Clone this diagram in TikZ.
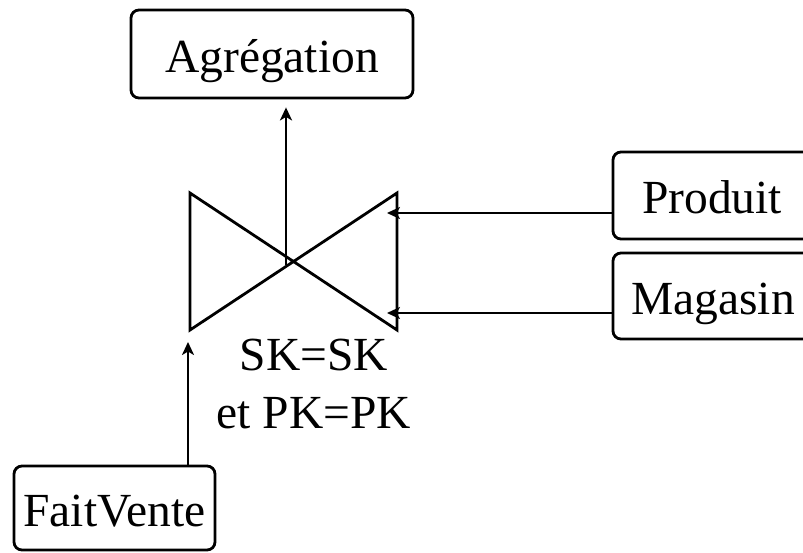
\documentclass[tikz,border=0pt]{standalone}
\usepackage{fontspec}
\setmainfont{Liberation Serif}
\usetikzlibrary{arrows.meta,calc}
\begin{document}
\begin{tikzpicture}[x=1pt,y=-1pt,
  line width=2.8pt,
  every node/.style={font=\fontsize{47.5}{57}\selectfont},
  table/.style={draw, rounded corners=8pt, inner sep=0pt,
    text height=36pt, text depth=0pt},
  flow/.style={-{Stealth[length=13pt,width=12pt,inset=3.5pt]}}]
  \clip (0,0) rectangle (803,552);
  \useasboundingbox (0,0) rectangle (803,552);

  % tables
  \node[table, minimum width=282pt, minimum height=88pt] (agg) at (272,54) {Agrégation};
  \node[table, minimum width=198pt, minimum height=87pt] (prod) at (712,195.5) {Produit};
  \node[table, minimum width=200pt, minimum height=86pt] (mag) at (713,296) {Magasin};
  \node[table, minimum width=201pt, minimum height=84pt] (fait) at (114.5,508) {FaitVente};

  % join symbol (bow tie)
  \coordinate (tl) at (190,193);
  \coordinate (bl) at (190,330);
  \coordinate (tr) at (397,193);
  \coordinate (br) at (397,330);
  \draw[line join=miter] (tl) -- (br) -- (tr) -- (bl) -- cycle;

  % connector ends on the join
  \coordinate (jout) at (286,265);
  \coordinate (jprod) at (387,213);
  \coordinate (jmag) at (387,313);
  \coordinate (jfait) at (188,342);

  \draw[flow] (jout) -- ($(jout |- agg.south)+(0,8)$);
  \draw[flow] (jprod -| prod.west) -- (jprod);
  \draw[flow] (jmag -| mag.west) -- (jmag);
  \draw[flow] (jfait |- fait.north) -- (jfait);

  % join condition
  \node[anchor=base] (cond1) at (314,370) {SK=SK};
  \node[anchor=base] (cond2) at (314,428) {et PK=PK};
\end{tikzpicture}
\end{document}
